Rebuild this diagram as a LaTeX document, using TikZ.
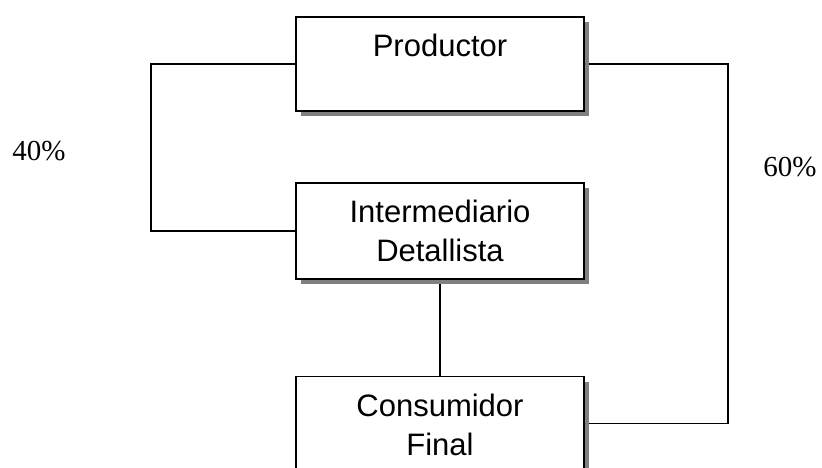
\documentclass[tikz,border=0pt]{standalone}
\usepackage{fontspec}
\setmainfont{Liberation Serif}
\setsansfont{Liberation Sans}
\usetikzlibrary{positioning,shadows,backgrounds}

\begin{document}
\begin{tikzpicture}[x=1pt, y=1pt,
			block/.style={rectangle, draw=black, line width=1.8pt, fill=white, inner sep=0pt,
				text width=288pt, align=center, text height=40pt, text depth=54pt,
				font=\sffamily\fontsize{31}{39}\selectfont,
				drop shadow={shadow xshift=5pt, shadow yshift=-5pt, fill=black!50, opacity=1}},
			share/.style={rectangle, inner sep=0pt, font=\fontsize{29}{34}\selectfont},
			link/.style={line width=1.8pt}]
			\useasboundingbox (0,0) rectangle (822,-468);
			\node[block, anchor=north] (productor) at (440,-16) {Productor};
			\node[block, text depth=56pt] (intermediario) [below=70pt of productor] {Intermediario\\Detallista};
			\node[block] (consumidor) [below=96pt of intermediario] {Consumidor\\Final};
			\node[share] (share40) at (39,-151) {40\%};
			\node[share] (share60) at (790,-167) {60\%};
			\begin{scope}[on background layer]
				\draw[link] (productor.west) -- ++(-144,0) |- (intermediario.west);
				\draw[link] (productor.east) -- ++(143,0) |- (consumidor.east);
				\draw[link] (intermediario.south) -- (consumidor.north);
			\end{scope}
		\end{tikzpicture}
\end{document}
